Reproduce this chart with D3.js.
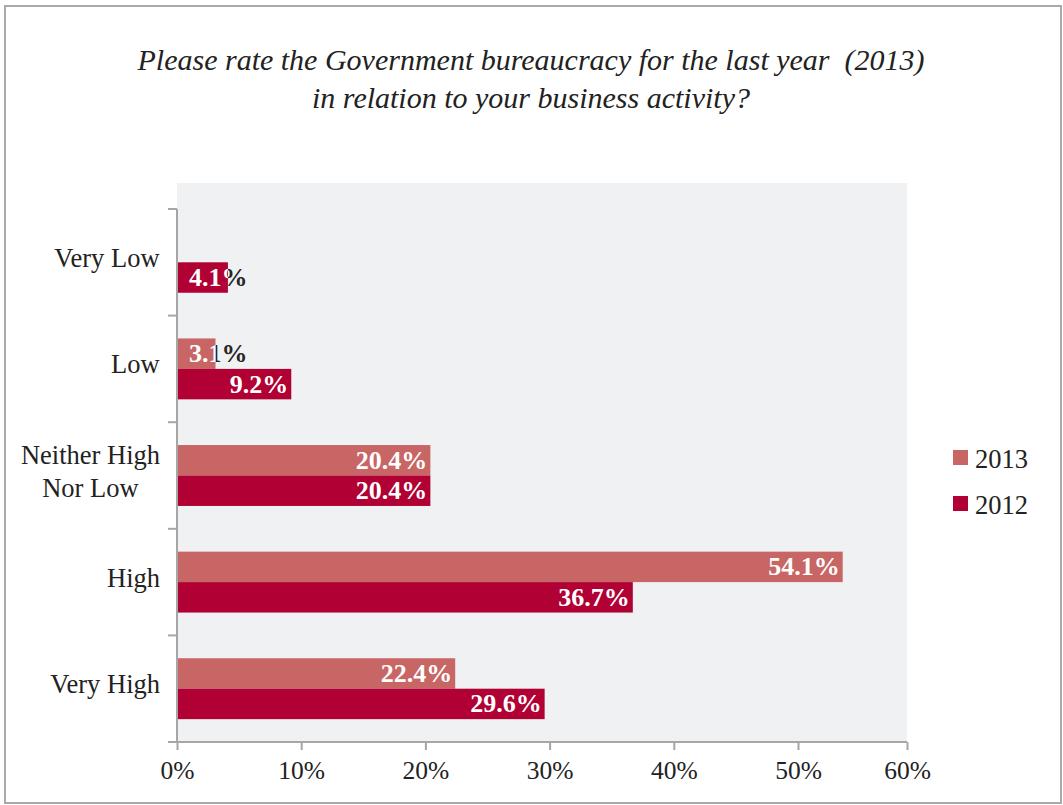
<!DOCTYPE html>
<html>
<head>
<meta charset="utf-8">
<script src="https://cdn.jsdelivr.net/npm/d3@7"></script>
<style>
  body { margin: 0; background: #fff; }
  svg { display: block; }
  text { font-family: "Liberation Serif", "Times New Roman", serif; white-space: pre; }
</style>
</head>
<body>
<svg id="chart" width="1063" height="805"></svg>
<script>
// Survey answers, percent of respondents
const categories = ["Very Low", "Low", "Neither High Nor Low", "High", "Very High"];
const categoryLines = [["Very Low"], ["Low"], ["Neither High", "Nor Low"], ["High"], ["Very High"]];
const seriesNames = ["2013", "2012"];
const values2013 = [null, 3.1, 20.4, 54.1, 22.4];
const values2012 = [4.1, 9.2, 20.4, 36.7, 29.6];
const tickValues = [0, 10, 20, 30, 40, 50, 60];
const tickLabels = ["0%", "10%", "20%", "30%", "40%", "50%", "60%"];
const titleLines = [
  "Please rate the Government bureaucracy for the last year  (2013)",
  "in relation to your business activity?"
];

const seriesValues = { "2013": values2013, "2012": values2012 };
const colors = { "2013": "#c86565", "2012": "#b00034" };

const svg = d3.select("#chart");
const W = 1063, H = 805;

// outer frame
svg.append("rect")
  .attr("x", 5).attr("y", 6).attr("width", W - 7).attr("height", H - 8)
  .attr("fill", "#fff").attr("stroke", "#a9a9a9").attr("stroke-width", 2);

// title
const title = svg.append("text")
  .attr("text-anchor", "middle")
  .attr("font-style", "italic")
  .attr("font-size", 30)
  .attr("fill", "#222");
titleLines.forEach((t, i) => {
  title.append("tspan").attr("x", 531).attr("y", 70 + i * 38).text(t);
});

// plot geometry
const plot = { left: 177, right: 907, top: 183, axisTop: 209, bottom: 742 };

const x = d3.scaleLinear()
  .domain([0, 50, 60])
  .range([plot.left, 798, plot.right]);

const y = d3.scaleBand()
  .domain(categories)
  .range([plot.axisTop, plot.bottom])
  .padding(0);

const ySeries = d3.scaleBand()
  .domain(seriesNames)
  .range([0, y.bandwidth()])
  .paddingInner(0)
  .paddingOuter(0.75);

// plot background
svg.append("rect")
  .attr("x", plot.left).attr("y", plot.top)
  .attr("width", plot.right - plot.left).attr("height", plot.bottom - plot.top)
  .attr("fill", "#f0f1f3");

// bars
const barData = [];
categories.forEach((c, i) => {
  seriesNames.forEach(s => {
    const v = seriesValues[s][i];
    if (v != null) barData.push({ cat: c, series: s, value: v, id: "b" + i + s });
  });
});

const defs = svg.append("defs");
const barG = svg.append("g");

barData.forEach(d => {
  const bx = x(0), by = y(d.cat) + ySeries(d.series);
  const bw = x(d.value) - x(0), bh = ySeries.bandwidth();
  d.bx = bx; d.by = by; d.bw = bw; d.bh = bh;
  barG.append("rect")
    .attr("x", bx).attr("y", by).attr("width", bw).attr("height", bh)
    .attr("fill", colors[d.series]);
  defs.append("clipPath").attr("id", "in-" + d.id)
    .append("rect").attr("x", bx).attr("y", by).attr("width", bw).attr("height", bh);
  defs.append("clipPath").attr("id", "out-" + d.id)
    .append("rect").attr("x", bx + bw).attr("y", by - 5).attr("width", plot.right - bx - bw).attr("height", bh + 10);
});

// value labels: white inside the bar, dark where a short bar lets them spill over
const labelSize = 26;
const labelG = svg.append("g");
barData.forEach(d => {
  const txt = d.value.toFixed(1) + "%";
  const probe = labelG.append("text")
    .attr("font-weight", "bold").attr("font-size", labelSize).text(txt);
  const tw = probe.node().getComputedTextLength();
  probe.remove();
  let lx, anchor;
  if (tw + 14 > d.bw) { lx = d.bx + 12; anchor = "start"; }
  else { lx = d.bx + d.bw - 3; anchor = "end"; }
  const ly = d.by + d.bh / 2 + 8.5;
  [["out-", "#262626"], ["in-", "#ffffff"]].forEach(([clip, fill]) => {
    labelG.append("text")
      .attr("x", lx).attr("y", ly)
      .attr("text-anchor", anchor)
      .attr("font-weight", "bold").attr("font-size", labelSize)
      .attr("fill", fill)
      .attr("clip-path", "url(#" + clip + d.id + ")")
      .text(txt);
  });
});

// axes
const axisColor = "#a6a6a6";
const yAxis = svg.append("g")
  .attr("transform", `translate(${plot.left},0)`)
  .call(d3.axisLeft(y).tickSize(0).tickFormat(""));
yAxis.select(".domain").attr("stroke", axisColor).attr("stroke-width", 2)
  .attr("d", `M0,${plot.axisTop}V${plot.bottom}`);
// category separators on the y axis
svg.append("g").selectAll("line")
  .data(categories.concat(["_end"]))
  .join("line")
  .attr("x1", plot.left - 9).attr("x2", plot.left)
  .attr("y1", (c, i) => i < categories.length ? y(c) : plot.bottom)
  .attr("y2", (c, i) => i < categories.length ? y(c) : plot.bottom)
  .attr("stroke", axisColor).attr("stroke-width", 2);

// category labels
const catG = svg.append("g");
categories.forEach((c, i) => {
  const lines = categoryLines[i];
  const cy = y(c) + y.bandwidth() / 2 - 4;
  const lh = 33;
  const t = catG.append("text")
    .attr("font-size", 26.5).attr("fill", "#222");
  lines.forEach((ln, j) => {
    t.append("tspan").attr("x", 0).attr("y", cy + (j - (lines.length - 1) / 2) * lh + 8.5).text(ln);
  });
  // right-align the block at x=160, center lines within it
  const bb = t.node().getBBox();
  t.selectAll("tspan").attr("x", 160 - bb.width / 2).attr("text-anchor", "middle");
});

const xAxis = svg.append("g")
  .attr("transform", `translate(0,${plot.bottom})`)
  .call(d3.axisBottom(x).tickValues(tickValues).tickSize(8).tickSizeOuter(0)
    .tickFormat((d, i) => tickLabels[i]));
xAxis.select(".domain").attr("stroke", axisColor).attr("stroke-width", 2)
  .attr("d", `M${plot.left - 9},0H${plot.right}`);
xAxis.selectAll(".tick line").attr("stroke", axisColor).attr("stroke-width", 2);
xAxis.selectAll(".tick text")
  .attr("font-family", "Liberation Serif, serif")
  .attr("font-size", 25.5).attr("fill", "#222").attr("dy", "0.7em").attr("y", 19);

// legend
const legend = svg.append("g");
seriesNames.forEach((s, i) => {
  const ly = 458 + i * 46;
  legend.append("rect")
    .attr("x", 953).attr("y", ly - 8).attr("width", 15).attr("height", 15)
    .attr("fill", colors[s]);
  legend.append("text")
    .attr("x", 975).attr("y", ly + 9.5)
    .attr("font-size", 26.5).attr("fill", "#222").text(s);
});
</script>
</body>
</html>
